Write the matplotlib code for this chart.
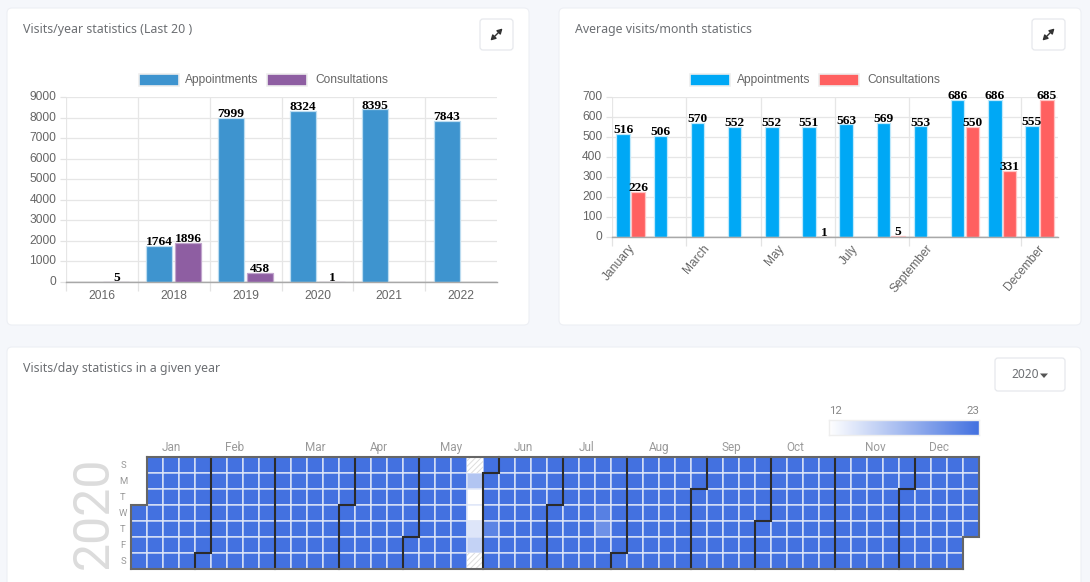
import datetime as dt
import numpy as np
import matplotlib
matplotlib.use("Agg")
import matplotlib.pyplot as plt
from matplotlib.colors import LinearSegmentedColormap, Normalize
from matplotlib.patches import FancyBboxPatch, Rectangle
from matplotlib.transforms import ScaledTranslation

# ---- data ----
years = ["2016", "2018", "2019", "2020", "2021", "2022"]
year_appointments = [None, 1764, 7999, 8324, 8395, 7843]
year_consultations = [5, 1896, 458, 1, None, None]
months = ["January", "February", "March", "April", "May", "June", "July",
          "August", "September", "October", "November", "December"]
month_appointments = [516, 506, 570, 552, 552, 551, 563, 569, 553, 686, 686, 555]
month_consultations = [226, None, None, None, None, 1, None, 5, None, 550, 331, 685]
shown_month_ticks = ["January", "March", "May", "July", "September", "December"]
series_names = ["Appointments", "Consultations"]
calendar_year = 2020
typical_day_value = 23
day_overrides = {(5, 25): 16.5, (5, 26): 12, (5, 27): 12, (5, 28): 14, (5, 29): 15.5,
                 (6, 4): 21.5, (7, 22): 21.8, (7, 23): 20.5}
missing_days = [(5, 24), (5, 30)]
weekday_labels = ["S", "M", "T", "W", "T", "F", "S"]
month_abbr = ["Jan", "Feb", "Mar", "Apr", "May", "Jun", "Jul", "Aug", "Sep", "Oct", "Nov", "Dec"]
scale_low, scale_high = 12, 23

# ---- canvas helpers ----
W, H = 1090, 582
fig = plt.figure(figsize=(W / 100, H / 100), dpi=100, facecolor="#f5f7fb")
SANS = "Liberation Sans"
SERIF = "Liberation Serif"
UI = "Noto Sans"


def px_axes(x0, y0, x1, y1, **kw):
    return fig.add_axes([x0 / W, 1 - y1 / H, (x1 - x0) / W, (y1 - y0) / H], **kw)


bg = px_axes(0, 0, W, H, zorder=0)
bg.set_xlim(0, W)
bg.set_ylim(H, 0)
bg.axis("off")


def card(x0, y0, x1, y1):
    bg.add_patch(FancyBboxPatch((x0, y0), x1 - x0, y1 - y0, boxstyle="round,pad=0,rounding_size=5",
                                fc="white", ec="#edeff4", lw=0.8))


def button(x0, y0, x1, y1):
    bg.add_patch(FancyBboxPatch((x0, y0), x1 - x0, y1 - y0, boxstyle="round,pad=0,rounding_size=3",
                                fc="white", ec="#e6e8ec", lw=0.9))


def expand_icon(cx, cy):
    bg.annotate("", xy=(cx + 6, cy - 6), xytext=(cx - 6, cy + 6),
                arrowprops=dict(arrowstyle="<|-|>,head_length=0.42,head_width=0.24", color="#333333",
                                lw=1.0, shrinkA=0, shrinkB=0, mutation_scale=7))


def legend_entry(x, text_x, label, color):
    bg.add_patch(Rectangle((x, 74), 40, 12, fc=color, ec="#eeeeee", lw=1.2))
    bg.text(text_x, 80, label, family=SANS, fontsize=8.64, color="#666666", ha="left", va="center")


card(7, 8, 529, 325)
card(559, 8, 1081, 325)
card(7, 347, 1081, 600)
button(480, 19, 513, 50)
button(1032, 19, 1065, 50)
button(995, 358, 1065, 391)
expand_icon(496.5, 34.5)
expand_icon(1048.5, 34.5)

TITLE = dict(family=UI, color="#6c6f73", fontsize=12.4 * 0.72, va="center", ha="left")
bg.text(23, 29.5, "Visits/year statistics (Last 20 )", **TITLE)
bg.text(575, 29.5, "Average visits/month statistics", **TITLE)
bg.text(23, 368.5, "Visits/day statistics in a given year", **TITLE)
bg.text(1011, 375, "2020", family=UI, color="#6c6f73", fontsize=8.6, va="center", ha="left")
bg.fill([1040, 1048, 1044], [373.5, 373.5, 378], color="#555555", lw=0)


# ---- bar charts ----
def bar_chart(rect, labels, first, second, c1, c2, e1, e2, ymax, ystep, ticklabels, legend_xs):
    ax = px_axes(*rect, zorder=2, facecolor="none")
    pos = np.arange(len(labels))
    for vals, off, c, e in ((first, -0.2, c1, e1), (second, 0.2, c2, e2)):
        for x, v in zip(pos, vals):
            if v is None:
                continue
            ax.bar(x + off, v, 0.36, color=c, edgecolor=e, linewidth=0.9, zorder=3)
            ax.annotate(str(v), xy=(x + off, v), xytext=(0, -1.6), textcoords="offset points",
                        family=SERIF, fontweight="bold", fontsize=9.6,
                        color="black", ha="center", va="bottom", zorder=5, annotation_clip=False)
    ax.set_xlim(-0.5, len(labels) - 0.5)
    ax.set_ylim(0, ymax)
    ax.set_yticks(np.arange(0, ymax + 1, ystep))
    ax.tick_params(axis="y", length=4.5, width=0.9, color="#e3e3e3", labelcolor="#666666", pad=2.5,
                   labelsize=8.64)
    for s in ("top", "right", "left"):
        ax.spines[s].set_visible(False)
    ax.spines["bottom"].set_color("#a8a8a8")
    ax.spines["bottom"].set_linewidth(1)
    ax.grid(axis="y", color="#e6e6e6", lw=0.9, zorder=0)
    shown = [labels.index(t) for t in ticklabels]
    edges = [i - 0.5 for i in shown]
    ax.set_xticks(edges)
    ax.set_xticklabels([""] * len(edges))
    ax.tick_params(axis="x", length=6.5, width=0.9, color="#e3e3e3")
    for ex in edges:
        ax.axvline(ex, color="#e6e6e6", lw=0.9, zorder=0)
    ax.axhline(0, color="#a8a8a8", lw=1, zorder=4)
    shift = ScaledTranslation(0, 1.5 / 100, fig.dpi_scale_trans)
    for lab in ax.get_yticklabels():
        lab.set_family(SANS)
        lab.set_transform(lab.get_transform() + shift)
    for (box_x, text_x), name, col in zip(legend_xs, series_names, (c1, c2)):
        legend_entry(box_x, text_x, name, col)
    return ax, pos


ax1, p1 = bar_chart((66, 97, 497, 282), years, year_appointments, year_consultations,
                    "#3e94cf", "#8e5ea2", "#bcdcf0", "#c0a4cc", 9000, 1000, years,
                    [(139, 185), (267, 315)])
for x, lab in zip(p1, years):
    ax1.text(x, -0.076, lab, transform=ax1.get_xaxis_transform(), family=SANS, fontsize=8.64,
             color="#666666", ha="center", va="center")

ax2, p2 = bar_chart((612, 97, 1058, 237), months, month_appointments, month_consultations,
                    "#00a8f5", "#ff6060", "#bfe8fb", "#ffc4c4", 700, 100, shown_month_ticks,
                    [(690, 737), (819, 867)])
for lab in shown_month_ticks:
    i = months.index(lab)
    ax2.annotate(lab, xy=(i, 0), xycoords=("data", "axes fraction"), xytext=(-1.5, -4),
                 textcoords="offset points", family=SANS, fontsize=8.64, color="#666666",
                 rotation=50, ha="right", va="top", rotation_mode="anchor")

# ---- calendar ----
cal_left, cal_top, cell = 131, 457, 16
first_day = dt.date(calendar_year, 1, 1)
origin = first_day - dt.timedelta(days=(first_day.weekday() + 1) % 7)


def cell_of(d):
    delta = (d - origin).days
    return delta // 7, delta % 7


n_weeks = cell_of(dt.date(calendar_year, 12, 31))[0] + 1
grid = np.full((7, n_weeks), np.nan)
d = first_day
while d.year == calendar_year:
    c, r = cell_of(d)
    grid[r, c] = day_overrides.get((d.month, d.day), typical_day_value)
    d += dt.timedelta(days=1)
for m, dd in missing_days:
    c, r = cell_of(dt.date(calendar_year, m, dd))
    grid[r, c] = np.nan

cmap = LinearSegmentedColormap.from_list("heat", ["#ffffff", "#4371e0"])
norm = Normalize(scale_low, scale_high)
cal = px_axes(cal_left, cal_top, cal_left + n_weeks * cell, cal_top + 7 * cell, zorder=2, facecolor="none")
cal.set_xlim(0, n_weeks)
cal.set_ylim(7, 0)
cal.axis("off")
cal.pcolor(np.arange(n_weeks + 1), np.arange(8), np.ma.masked_invalid(grid), cmap=cmap, norm=norm,
           edgecolors="#dfe6f8", linewidth=1.0)
plt.rcParams["hatch.linewidth"] = 0.7
for m, dd in missing_days:
    c, r = cell_of(dt.date(calendar_year, m, dd))
    cal.add_patch(Rectangle((c, r), 1, 1, fc="white", ec="#dddddd", hatch="//////", lw=0))


def boundary(d):
    c, r = cell_of(d)
    if r == 0:
        return [c, c], [0, 7]
    return [c + 1, c + 1, c, c], [0, r, r, 7]


for m in range(2, 13):
    xs, ys = boundary(dt.date(calendar_year, m, 1))
    cal.plot(xs, ys, color="#2b2b2b", lw=1.5, clip_on=False, solid_joinstyle="miter", zorder=4)
for start in (dt.date(calendar_year, 1, 1), dt.date(calendar_year + 1, 1, 1)):
    xs, ys = boundary(start)
    cal.plot(xs, ys, color="#666666", lw=1.5, clip_on=False, solid_joinstyle="miter", zorder=4)
c_start, r_start = cell_of(first_day)
c_end, r_end = cell_of(dt.date(calendar_year, 12, 31))
cal.plot([c_start + 1 if r_start else c_start, c_end + 1], [0, 0], color="#666666", lw=1.5, clip_on=False, zorder=4)
cal.plot([0, c_end if r_end < 6 else c_end + 1], [7, 7], color="#666666", lw=1.5, clip_on=False, zorder=4)

for m, lab in enumerate(month_abbr, start=1):
    last = dt.date(calendar_year + (m == 12), m % 12 + 1, 1) - dt.timedelta(days=1)
    c0 = cell_of(dt.date(calendar_year, m, 1))[0]
    c1 = cell_of(last)[0]
    cal.text((c0 + c1 + 1) / 2, -0.62, lab, family="Roboto", fontsize=8.5, color="#9a9a9a",
             ha="center", va="center", clip_on=False)
for r, lab in enumerate(weekday_labels):
    cal.text(-0.5, r + 0.5, lab, family="Roboto", fontsize=6.8, color="#999999",
             ha="center", va="center", clip_on=False)
bg.text(94, 513, str(calendar_year), family="Roboto", fontsize=36, color="#dcdcdc", rotation=90,
        ha="center", va="center")

# ---- colour scale ----
scale_ax = px_axes(829, 420, 979, 435, zorder=2)
scale_ax.imshow(np.linspace(scale_low, scale_high, 256)[None, :], aspect="auto", cmap=cmap, norm=norm)
scale_ax.set_xticks([])
scale_ax.set_yticks([])
for s in scale_ax.spines.values():
    s.set_color("#eeeeee")
    s.set_linewidth(1)
bg.text(829, 411, str(scale_low), family="Roboto", fontsize=8.2, color="#888888", ha="left", va="center")
bg.text(979, 411, str(scale_high), family="Roboto", fontsize=8.2, color="#888888", ha="right", va="center")

fig.savefig("out.png", dpi=100, facecolor=fig.get_facecolor())
